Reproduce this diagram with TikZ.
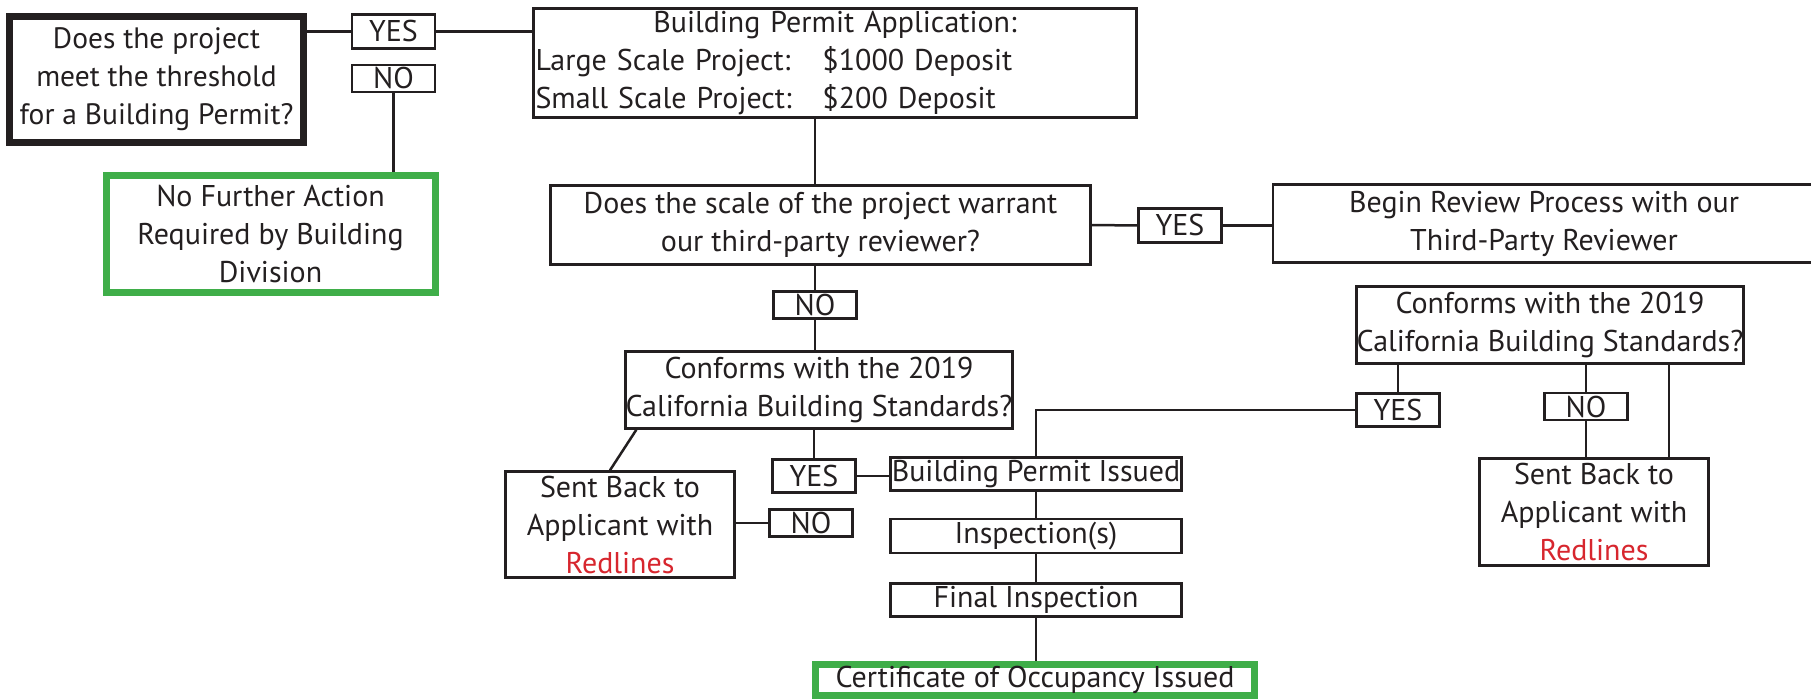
\documentclass[tikz,border=0pt]{standalone}
\usepackage{fontspec}
\setmainfont{PT Sans}
\usepackage{xcolor}
\usepackage{tikz}
\usetikzlibrary{positioning}
\definecolor{ink}{HTML}{231F20}
\definecolor{okgreen}{HTML}{3FAE49}
\definecolor{redline}{HTML}{D7262E}
\tikzstyle{block} = [draw=ink, line width=2.5pt, inner sep=0pt, align=center, text=ink]
\tikzstyle{answer} = [block, minimum width=83pt, minimum height=27pt]
\tikzstyle{start} = [block, line width=7pt]
\tikzstyle{done} = [block, draw=okgreen, line width=7pt]
\tikzstyle{link} = [draw=ink, line width=2.5pt]

\begin{document}
\begin{tikzpicture}[x=1pt, y=-1pt, font=\fontsize{30}{38}\selectfont]
		\useasboundingbox (0,0) rectangle (1811,700);
		% threshold question
		\node [start, minimum width=294pt, minimum height=126pt, font=\fontsize{29.5}{38}\selectfont] (thresh) at (156.5,79.5) {Does the project\\meet the threshold\\for a Building Permit?};
		\node [answer, minimum height=34pt] (yes1) at (393.5,31.5) {YES};
		\node [answer] (no1) at (393.5,78.5) {NO};
		\node [done, minimum width=329pt, minimum height=117pt] (noaction) at (270.5,234.5) {No Further Action\\Required by Building\\Division};
		\node [block, minimum width=603pt, minimum height=109pt, text width=599pt, inner xsep=2pt, align=left] (app) at (835,63) {\makebox[599pt][c]{Building Permit Application:}\\\makebox[287pt][l]{Large Scale Project:}\$1000 Deposit\\\makebox[287pt][l]{Small Scale Project:}\$200 Deposit};
		% review question
		\node [block, minimum width=540pt, minimum height=79pt] (scale) at (820.5,225) {Does the scale of the project warrant\\our third-party reviewer?};
		\node [answer, minimum height=34pt] (yes2) at (1180,225.5) {YES};
		\node [block, minimum width=542pt, minimum height=78pt] (review) at (1544,223.5) {Begin Review Process with our\\Third-Party Reviewer};
		\node [answer] (no2) at (815,305) {NO};
		% conformance, own review
		\node [block, minimum width=383pt, minimum height=77pt] (conf) at (819,390) {Conforms with the 2019\\California Building Standards?};
		\node [block, minimum width=229pt, minimum height=106pt] (back1) at (620,524.5) {Sent Back to\\Applicant with\\\textcolor{redline}{Redlines}};
		\node [answer, minimum height=33pt] (yes4) at (814,476) {YES};
		\node [answer] (no4) at (811,523) {NO};
		\node [block, minimum width=291pt, minimum height=33pt] (issued) at (1036,474) {Building Permit Issued};
		\node [block, minimum width=291pt, minimum height=34pt, below=26pt of issued] (insp) {Inspection(s)};
		\node [block, minimum width=291pt, minimum height=33pt, below=28pt of insp] (final) {Final Inspection};
		\node [done, minimum width=439pt, minimum height=31pt] (occupancy) at (1035,680) {Certificate of Occupancy Issued};
		% conformance, third-party review
		\node [block, minimum width=385pt, minimum height=77pt] (conf2) at (1550,325) {Conforms with the 2019\\California Building Standards?};
		\node [answer, minimum height=33pt] (yes3) at (1398,410) {YES};
		\node [answer] (no3) at (1586,406.5) {NO};
		\node [block, minimum width=229pt, minimum height=107pt] (back2) at (1594,512) {Sent Back to\\Applicant with\\\textcolor{redline}{Redlines}};

		\draw [link] (yes1.west -| thresh.east) -- (yes1.west);
		\draw [link] (yes1.east) -- (yes1.east -| app.west);
		\draw [link] (no1.south) -- (no1.south |- noaction.north);
		\draw [link] (app.south -| no2) -- (scale.north -| no2);
		\draw [link] (scale.east) -- (yes2.west);
		\draw [link] (yes2.east) -- (yes2.east -| review.west);
		\draw [link] (scale.south -| no2) -- (no2.north);
		\draw [link] (no2.south) -- (no2 |- conf.north);
		\draw [link] ([xshift=12pt]conf.south west) -- ([xshift=-10pt]back1.north);
		\draw [link] (conf.south -| yes4) -- (yes4.north);
		\draw [link] (yes4.east) -- (yes4.east -| issued.west);
		\draw [link] (no4.west -| back1.east) -- (no4.west);
		\draw [link] (issued.north) |- (yes3.west);
		\draw [link] (issued) -- (insp);
		\draw [link] (insp) -- (final);
		\draw [link] (final.south) -- (final.south |- occupancy.north);
		\draw [link] (yes3.north |- conf2.south) -- (yes3.north);
		\draw [link] (no3.north |- conf2.south) -- (no3.north);
		\draw [link] (no3.south) -- (no3.south |- back2.north);
		\draw [link] ([xshift=75pt]back2.north) -- ([xshift=75pt]back2.north |- conf2.south);
	\end{tikzpicture}
\end{document}
